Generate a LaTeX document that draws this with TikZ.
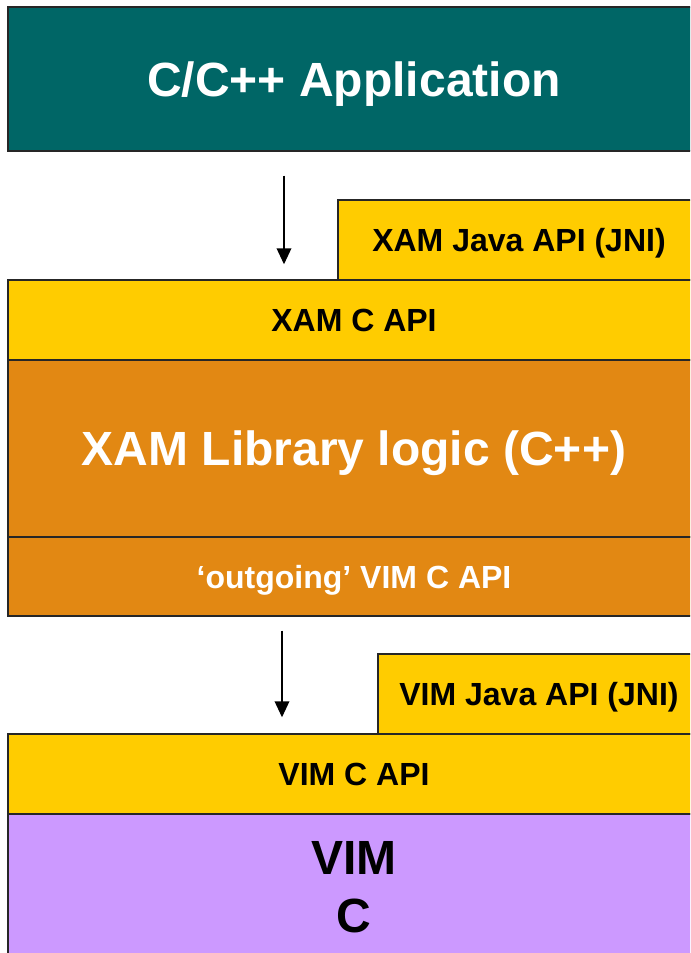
\documentclass[tikz,border=0pt]{standalone}
\usepackage{fontspec}
\setmainfont{Liberation Sans}
\usepackage{tikz}
\usetikzlibrary{arrows.meta}
\pgfdeclarelayer{bg}
\pgfsetlayers{bg,main}

\definecolor{appteal}{HTML}{006666}
\definecolor{apiyellow}{HTML}{FFCC00}
\definecolor{liborange}{HTML}{E28813}
\definecolor{vimpurple}{HTML}{CC99FF}

\newcommand{\pxu}{0.75pt}
\newcommand{\bigtxt}{\fontsize{36}{43.5}\selectfont\bfseries}
\newcommand{\smalltxt}{\fontsize{24}{29}\selectfont\bfseries}

\tikzset{
  layer/.style={draw=black!85, line width=1.1pt, inner sep=0pt, align=center, text depth=0pt},
  calldown/.style={-{Triangle[width=11pt,length=12pt]}, line width=1.1pt},
}

\begin{document}
\begin{tikzpicture}[x=\pxu, y=-\pxu]
        \clip (0,0) rectangle (690,953);
        \node (app) [layer, fill=appteal, text=white, font=\bigtxt, minimum width=692*\pxu, minimum height=144*\pxu] at (354, 79) {C/C++ Application};
        \node (xamjava) [layer, fill=apiyellow, font=\smalltxt, minimum width=362*\pxu, minimum height=80*\pxu] at (519, 240) {XAM Java API (JNI)};
        \node (xamc) [layer, fill=apiyellow, font=\smalltxt, minimum width=692*\pxu, minimum height=80*\pxu] at (354, 320) {XAM C API};
        \node (xamlib) [layer, fill=liborange, text=white, font=\bigtxt, minimum width=692*\pxu, minimum height=177*\pxu] at (354, 448.5) {XAM Library logic (C++)};
        \node (outgoing) [layer, fill=liborange, text=white, font=\smalltxt, minimum width=692*\pxu, minimum height=79*\pxu] at (354, 576.5) {`outgoing' VIM C API};
        \node (vimjava) [layer, fill=apiyellow, font=\smalltxt, minimum width=322*\pxu, minimum height=80*\pxu] at (539, 694) {VIM Java API (JNI)};
        \node (vimc) [layer, fill=apiyellow, font=\smalltxt, minimum width=692*\pxu, minimum height=80*\pxu] at (354, 774) {VIM C API};
        \node (vim) [layer, fill=vimpurple, font=\bigtxt, minimum width=692*\pxu, minimum height=146*\pxu] at (354, 887) {VIM\\C};
        \coordinate (a1) at (284, 0);
        \coordinate (a2) at (282, 0);
        \draw [calldown, shorten <=24*\pxu, shorten >=15*\pxu] (app.south -| a1) -- (xamc.north -| a1);
        \draw [calldown, shorten <=14*\pxu, shorten >=16*\pxu] (outgoing.south -| a2) -- (vimc.north -| a2);
\end{tikzpicture}
\end{document}
